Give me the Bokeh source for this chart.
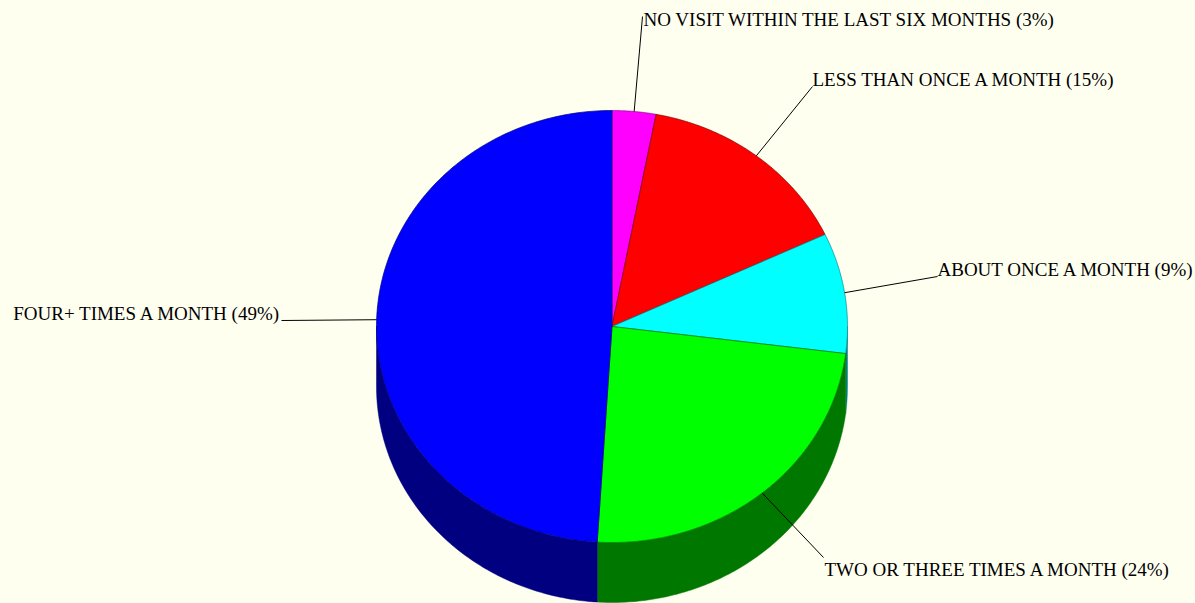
import numpy as np
from bokeh.plotting import figure
from bokeh.models import Range1d, ColumnDataSource
from bokeh.embed import file_html
from bokeh.resources import INLINE
from bokeh.core.properties import value

# ---- data ----
categories = [
    "NO VISIT WITHIN THE LAST SIX MONTHS",
    "LESS THAN ONCE A MONTH",
    "ABOUT ONCE A MONTH",
    "TWO OR THREE TIMES A MONTH",
    "FOUR+ TIMES A MONTH",
]
percents = [3, 15, 9, 24, 49]

# ---- style / layout ----
top_colors = ["#FF00FF", "#FF0000", "#00FFFF", "#00FF00", "#0000FF"]
side_colors = ["#800080", "#800000", "#008080", "#007800", "#000080"]
BG = "#FFFFF0"
W, H = 1195, 603
CX, CY, RX, RY, DEPTH = 611.5, 326.0, 235.5, 216.0, 60.0
label_end = [(642, 16), (812, 86), (937, 276), (823, 557), (281, 320)]
label_pos = [(643, 19, "left"), (812, 79, "left"), (937, 269, "left"),
             (824, 569, "left"), (281, 313, "right")]


def ell(theta_deg, dy=0.0):
    t = np.radians(theta_deg)
    return CX + RX * np.sin(t), CY - RY * np.cos(t) + dy


total = float(sum(percents))
bounds = np.concatenate([[0.0], np.cumsum(percents) / total * 360.0])

p = figure(width=W, height=H, x_range=Range1d(0, W), y_range=Range1d(H, 0),
           output_backend="svg", toolbar_location=None, min_border=0,
           background_fill_color=BG, border_fill_color=BG, outline_line_color=None)
p.xaxis.visible = False
p.yaxis.visible = False
p.grid.visible = False

# sides (front half only)
sxs, sys_, scol = [], [], []
for i in range(len(percents)):
    a, b = max(bounds[i], 90.0), min(bounds[i + 1], 270.0)
    if a < b:
        th = np.linspace(a, b, 120)
        tx, ty = ell(th)
        bx, by = ell(th[::-1], DEPTH)
        sxs.append(list(np.concatenate([tx, bx])))
        sys_.append(list(np.concatenate([ty, by])))
        scol.append(side_colors[i])
p.patches(xs="xs", ys="ys", fill_color="c", line_color="c", line_width=0.5,
          source=ColumnDataSource(dict(xs=sxs, ys=sys_, c=scol)))

# tops
txs, tys = [], []
for i in range(len(percents)):
    th = np.linspace(bounds[i], bounds[i + 1], 200)
    x, y = ell(th)
    txs.append([CX] + list(x))
    tys.append([CY] + list(y))
p.patches(xs="xs", ys="ys", fill_color="c", line_color="lc", line_width=0.7,
          source=ColumnDataSource(dict(xs=txs, ys=tys, c=top_colors, lc=side_colors)))

# leader lines and labels
for i in range(len(percents)):
    mid = (bounds[i] + bounds[i + 1]) / 2.0
    mx, my = ell(mid)
    ex, ey = label_end[i]
    p.line([mx, ex], [my, ey], line_color="black", line_width=1)
    lx, ly, al = label_pos[i]
    p.text([lx], [ly], text=[f"{categories[i]} ({percents[i]}%)"],
           text_font=value("Liberation Serif"), text_font_size="19px",
           text_align=al, text_baseline="alphabetic", text_color="#000000")

html = file_html(p, INLINE, title="Pie chart")
html = html.replace("</head>",
                    "<style>html,body{background:%s;margin:0;padding:0;overflow:hidden;}</style></head>" % BG, 1)
open("out.html", "w").write(html)
